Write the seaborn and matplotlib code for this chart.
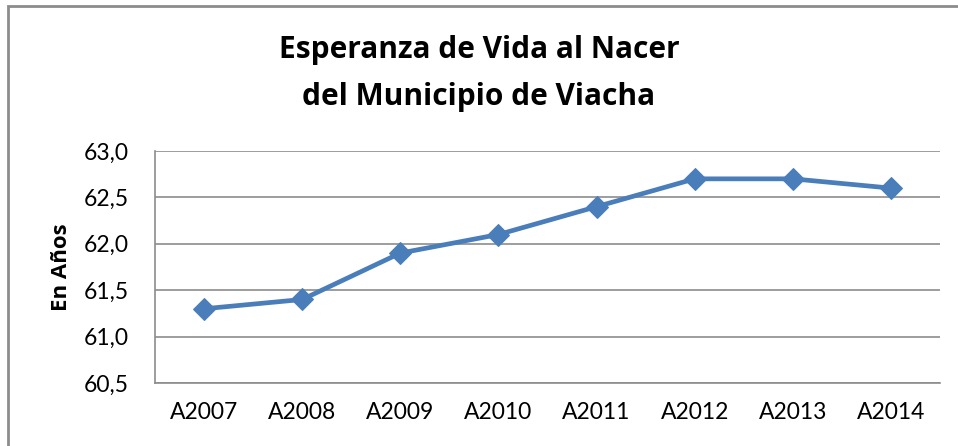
import matplotlib
matplotlib.use("Agg")
import matplotlib.pyplot as plt
import matplotlib.patches as patches
from matplotlib.ticker import FuncFormatter
import pandas as pd
import seaborn as sns

# data
years = ["A2007", "A2008", "A2009", "A2010", "A2011", "A2012", "A2013", "A2014"]
esperanza = [61.3, 61.4, 61.9, 62.1, 62.4, 62.7, 62.7, 62.6]
y_ticks = [60.5, 61.0, 61.5, 62.0, 62.5, 63.0]

df = pd.DataFrame({"anio": years, "valor": esperanza})

sns.set_style("white")
plt.rcParams['font.family'] = ['Lato', 'DejaVu Sans']
plt.rcParams['text.color'] = 'black'
bold_font = ['Open Sans', 'DejaVu Sans']

fig = plt.figure(figsize=(9.58, 4.46), dpi=100)
ax = fig.add_axes([155 / 958, 1 - 383 / 446, 785 / 958, 232 / 446])

sns.lineplot(data=df, x="anio", y="valor", ax=ax, color="#4A7EBB", linewidth=3.4,
             marker="D", markersize=11.5, markeredgecolor="#4A7EBB", sort=False)

ax.set_xlim(-0.5, len(years) - 0.5)
ax.set_ylim(60.5, 63.0)
ax.set_yticks(y_ticks)
ax.yaxis.set_major_formatter(FuncFormatter(lambda v, p: f"{v:.1f}".replace(".", ",")))
ax.grid(axis="y", color="#8C8C8C", linewidth=1.2)
ax.set_axisbelow(True)
for s in ["top", "right"]:
    ax.spines[s].set_visible(False)
for s in ["left", "bottom"]:
    ax.spines[s].set_color("#8C8C8C")
    ax.spines[s].set_linewidth(1.2)
ax.tick_params(axis="both", length=0, labelsize=16.5, colors="black")
ax.tick_params(axis="x", pad=14)
ax.tick_params(axis="y", pad=19)
ax.set_xlabel("")
ax.set_ylabel("En Años", fontsize=16, fontweight="bold", family=bold_font,
              color="black", labelpad=8)

fig.text(0.5, 1 - 50 / 446, "Esperanza de Vida al Nacer", ha="center", va="center",
         fontsize=21.5, fontweight="bold", family=bold_font)
fig.text(0.5, 1 - 97 / 446, "del Municipio de Viacha", ha="center", va="center",
         fontsize=21.5, fontweight="bold", family=bold_font)

# chart frame
fig.patches.append(patches.Rectangle((8 / 958, -0.1), 1.1, 1.1 - 6 / 446, transform=fig.transFigure,
                                     fill=False, edgecolor="#8C8C8C", linewidth=2))

fig.savefig("out.png", dpi=100)
